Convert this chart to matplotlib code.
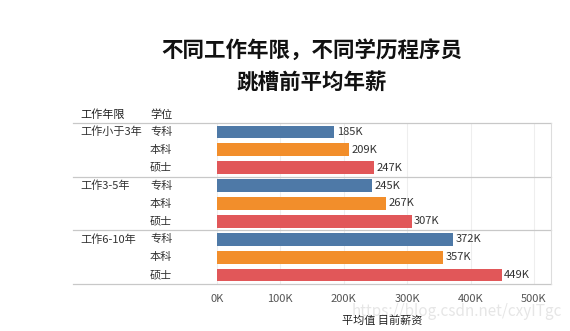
import matplotlib
matplotlib.use("Agg")
import matplotlib.pyplot as plt
from matplotlib.transforms import blended_transform_factory

plt.rcParams['font.family'] = ['Noto Sans CJK SC', 'DejaVu Sans']

# data
groups = ["工作小于3年", "工作3-5年", "工作6-10年"]
degrees = ["专科", "本科", "硕士"]
salaries = [
    [185, 209, 247],
    [245, 267, 307],
    [372, 357, 449],
]
x_ticks = [0, 100, 200, 300, 400, 500]
x_tick_labels = ["0K", "100K", "200K", "300K", "400K", "500K"]
degree_colors = ["#4e79a7", "#f28e2b", "#e15759"]

fig = plt.figure(figsize=(5.7, 3.31), dpi=100)
fig.patch.set_facecolor("white")
ax = fig.add_axes([217 / 570, 1 - 284 / 331, 334 / 570, 161 / 331])

rows = len(groups) * len(degrees)
for gi, group in enumerate(groups):
    for di, deg in enumerate(degrees):
        y = gi * len(degrees) + di
        v = salaries[gi][di]
        ax.barh(y, v, height=0.72, color=degree_colors[di], edgecolor="none")
        ax.text(v + 4, y, f"{v}K", va="center", ha="left", fontsize=8, color="#333333")

ax.set_ylim(rows - 0.5, -0.5)
ax.set_xlim(0, 527)
ax.set_yticks([])
ax.set_xticks(x_ticks)
ax.set_xticklabels(x_tick_labels, fontsize=8, color="#555555")
ax.tick_params(axis="x", length=0, pad=7)
ax.grid(axis="x", color="#eeeeee", linewidth=0.8)
ax.set_axisbelow(True)
for side in ["top", "bottom", "left"]:
    ax.spines[side].set_visible(False)
ax.spines["right"].set_color("#dddddd")
ax.spines["right"].set_linewidth(0.8)

# row labels and separators in the left table area
trans = blended_transform_factory(fig.transFigure, ax.transData)
for gi, group in enumerate(groups):
    y0 = gi * len(degrees)
    ax.text(80 / 570, y0, group, transform=trans, va="center", ha="left",
            fontsize=8, color="#333333")
    for di, deg in enumerate(degrees):
        ax.text(150 / 570, y0 + di, deg, transform=trans, va="center", ha="left",
                fontsize=8, color="#333333")
for yl in [-0.5, 2.5, 5.5, 8.5]:
    ax.plot([73 / 570, 551 / 570], [yl, yl], transform=trans, color="#c8c8c8",
            linewidth=0.9, clip_on=False)

# header
fig.text(80 / 570, 1 - 115 / 331, "工作年限", fontsize=8, color="#222222", va="center", ha="left")
fig.text(150 / 570, 1 - 115 / 331, "学位", fontsize=8, color="#222222", va="center", ha="left")

# title
fig.text(312 / 570, 1 - 50 / 331, "不同工作年限，不同学历程序员", fontsize=15.5,
         fontweight="bold", ha="center", va="center", color="#111111")
fig.text(312 / 570, 1 - 82 / 331, "跳槽前平均年薪", fontsize=15.5,
         fontweight="bold", ha="center", va="center", color="#111111")

# watermark and axis title
fig.text(562 / 570, 1 - 312 / 331, "https://blog.csdn.net/cxyITgc", fontsize=11,
         ha="right", va="center", color="#e6e6e6")
fig.text(382 / 570, 1 - 320 / 331, "平均值 目前薪资", fontsize=8,
         ha="center", va="center", color="#222222")

fig.savefig("out.png", dpi=100)
